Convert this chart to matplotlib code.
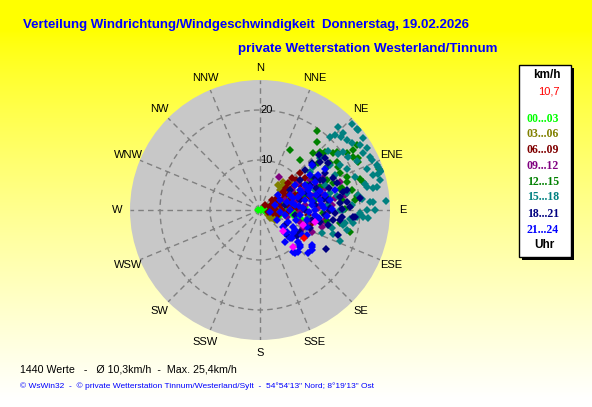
import numpy as np
import matplotlib
matplotlib.use("Agg")
import matplotlib.pyplot as plt
from matplotlib.patches import Rectangle

# Windrichtung (Grad) / Windgeschwindigkeit (km/h) je Uhrzeit-Gruppe
h00_03 = [(90,0.2),(56,0.7),(113,1.5),(101,2.0),(118,3.0),(69,1.7),(82,3.0),(97,3.4),(104,4.1),
          (73,4.8),(85,6.4),(100,7.7),(103,8.6),(67,6.5),(61,7.5),(270,0.4),(86,9.0),(106,3.7),
          (90,5.2),(101,1.0),(76,4.1),(93,7.0),(99,6.7),(92,1.3),(108,2.6)]
h03_06 = [(44,6.4),(45,5.7),(39,7.2),(47,8.2),(118,3.0),(124,2.9),(90,3.4),(129,2.6),(124,3.6),
          (36,6.2),(46,7.2),(51,6.4),(122,1.9),(80,6.1),(71,7.4),(86,8.0)]
h06_09 = [(73,2.1),(55,4.2),(52,5.8),(55,8.0),(58,9.4),(72,6.3),(90,4.4),(103,2.7),(96,5.4),
          (87,7.4),(73,8.8),(47,10.9),(45,9.1),(75,10.3),(100,11.8),(104,10.7),(45,1.4),(62,3.4),
          (76,4.1),(61,5.7),(56,7.2),(67,7.6),(104,1.6),(106,3.7),(66,9.8),(46,7.8),(50,9.4),
          (50,3.1),(96,9.7),(55,11.0),(65,5.0),(80,5.5),(85,3.0),(60,6.6),(68,8.5),(78,2.8),
          (88,6.2),(50,6.8),(95,2.2),(64,2.5)]
h09_12 = [(30,7.6),(113,11.3),(105,12.9),(55,9.3),(71,13.7),(90,6.0),(84,9.1),(95,11.0),(80,12.2),
          (73,10.4),(77,7.2),(65,9.5),(86,14.4),(104,5.6),(107,8.4),(92,13.6),(70,13.2),(77,12.9),
          (86,13.4),(63,14.1),(104,9.9),(66,12.3),(93,8.0),(68,5.4),(59,11.7),(81,15.2),(71,16.9),
          (88,11.6),(58,7.5),(113,9.3),(80,17.3),(75,11.0),(85,12.0),(100,13.0),(62,10.5)]
h12_15 = [(36,19.5),(27,13.4),(39,12.8),(43,15.6),(48,16.6),(57,15.9),(58,18.1),(65,17.6),(78,18.8),
          (83,20.1),(84,19.1),(83,16.5),(79,13.8),(69,12.9),(58,12.3),(62,10.6),(51,14.8),(66,14.7),
          (70,15.6),(75,16.6),(72,18.3),(90,14.0),(93,12.6),(104,18.6),(53,19.4),(57,20.8),(57,22.1),
          (62,22.2),(48,17.4),(56,16.9),(61,17.8),(60,21.4),(56,23.4),(64,21.7),(73,20.9),(69,18.6),
          (75,17.0),(82,19.6),(75,21.3),(99,16.2),(99,13.5),(89,17.0),(71,25.2),(40,17.7),(46,16.8),
          (52,18.6),(72,9.5),(80,11.2)]
h15_18 = [(43,22.8),(50,25.3),(55,25.2),(44,20.2),(48,21.7),(51,22.3),(54,22.8),(57,23.9),(60,24.8),
          (66,24.5),(69,25.1),(72,25.4),(73,24.7),(73,23.7),(69,23.0),(63,21.8),(59,20.5),(55,20.2),
          (54,19.2),(49,18.1),(49,15.9),(51,13.6),(53,12.6),(65,19.2),(71,20.0),(76,21.7),(79,23.1),
          (86,25.3),(86,22.7),(90,21.4),(94,20.6),(94,19.4),(96,18.1),(100,16.9),(103,17.9),(98,18.8),
          (94,21.7),(90,23.0),(90,16.0),(80,15.6),(76,14.4),(79,17.7),(81,19.8),(108,15.3),(110,13.2),
          (111,17.1),(90,16.6),(45,21.1),(47,22.6),(47,25.1),(51,25.3),(61,23.6),(64,24.4),(70,25.2),
          (79,23.8),(86,22.0),(92,20.0),(99,17.2),(104,14.8),(76,24.7),(78,21.9),(69,13.9),(61,13.2),
          (65,16.6),(61,18.4),(57,16.6),(70,11.7),(86,13.6),(87,18.4),(84,20.5),(100,9.7),(102,14.1)]
h18_21 = [(121,15.3),(108,16.4),(101,12.2),(101,10.6),(125,9.0),(94,19.1),(48,14.0),(51,15.4),
          (47,16.0),(51,16.6),(50,13.9),(53,10.0),(56,7.2),(70,10.0),(85,16.1),(78,16.9),(88,18.0),
          (90,14.0),(98,14.7),(94,13.0),(85,11.0),(55,16.5),(60,15.0),(66,15.9),(71,16.3),(81,16.2),
          (82,13.7),(89,16.4),(85,17.5),(94,18.7),(97,16.1),(92,15.0),(88,14.0),(83,20.1),(76,8.2),
          (90,9.0),(98,7.1),(63,11.2),(76,12.0),(79,5.1),(63,13.4),(48,12.0),(133,7.6),(119,9.1),
          (121,5.8),(110,10.6),(72,14.5),(80,13.0),(68,12.0),(95,16.5),(102,14.0),(60,12.8),
          (77,17.8),(65,14.0)]
h21_24 = [(127,5.7),(129,7.0),(142,8.1),(131,8.5),(125,8.0),(130,9.9),(133,10.9),(142,10.7),
          (141,11.1),(121,9.8),(125,12.8),(128,13.1),(110,10.0),(102,9.6),(113,6.1),(121,3.9),
          (100,11.6),(133,6.8),(133,8.2),(120,8.1),(131,10.6),(118,10.6),(138,11.3),(117,7.4),
          (124,12.5),(132,12.9),(49,13.8),(55,12.2),(63,12.3),(63,4.5),(63,6.7),(82,7.1),(63,8.9),
          (78,9.2),(73,10.4),(90,11.0),(81,12.2),(77,13.3),(101,5.1),(72,3.2),(97,8.1),(55,8.6),
          (61,10.3),(72,12.6),(82,14.1),(85,10.4),(90,6.0),(96,4.0),(59,13.5),(58,15.3),(71,8.0),
          (67,10.4),(85,12.4),(95,11.0),(75,15.5),(89,14.4),(74,5.6),(87,8.6),(101,2.0),(50,4.7),
          (70,7.0),(80,10.5),(88,12.8),(75,11.5),(68,9.0),(92,9.8),(84,7.8),(78,6.5),(95,13.5),
          (65,11.0),(105,7.5),(98,12.0)]
extra_magenta = [(109,9.1),(138,9.9),(102,11.3),(132,6.2)]
extra_red = [(123,10.4)]

gruppen = [h00_03, h03_06, h06_09, h09_12, h12_15, h15_18, h18_21, h21_24]
farben = ['#00ff00', '#808000', '#800000', '#800080', '#008000', '#008080', '#000080', '#0000ff']
uhrzeiten = ['00...03', '03...06', '06...09', '09...12', '12...15', '15...18', '18...21', '21...24']
richtungen = ['N','NNE','NE','ENE','E','ESE','SE','SSE','S','SSW','SW','WSW','W','WNW','NW','NNW']
ringe = [10, 20]

W, H = 592, 407
fig = plt.figure(figsize=(W/100, H/100), dpi=100)

def fx(x): return x / W
def fy(y): return 1 - y / H

# Hintergrund: gelb -> hellgelb
bg = fig.add_axes([0, 0, 1, 1])
yy = np.linspace(0, H, 200)
t = np.clip((yy - 30) / 370, 0, 1) ** 0.8
grad = np.ones((200, 2, 3))
grad[:, :, 2] = t[:, None]
bg.imshow(grad, extent=[0, 1, 0, 1], aspect='auto', origin='upper')
bg.set_axis_off()

# Polardiagramm
cx, cy, rad = 260, 210, 130
ax = fig.add_axes([fx(cx-rad), fy(cy+rad), 2*rad/W, 2*rad/H], projection='polar')
ax.set_theta_zero_location('N')
ax.set_theta_direction(-1)
ax.set_facecolor('#c8c8c8')
ax.spines['polar'].set_visible(False)
ax.set_ylim(0, 26)
ax.set_yticks(ringe)
ax.set_yticklabels([])
ax.set_xticks(np.radians(np.arange(0, 360, 22.5)))
ax.set_xticklabels([])
ax.grid(True, color='#808080', linestyle=(0, (4, 3)), linewidth=1)

for g, c in zip(gruppen, farben):
    d = np.radians([p[0] for p in g])
    s = [p[1] for p in g]
    ax.plot(d, s, 'D', color=c, ms=4.2, mew=0, linestyle='none')
for g, c in [(extra_magenta, '#ff00ff'), (extra_red, '#ff0000')]:
    ax.plot(np.radians([p[0] for p in g]), [p[1] for p in g], 'D', color=c, ms=4.2, mew=0, linestyle='none')

for i, r in enumerate(richtungen):
    ax.text(np.radians(i*22.5), 28.5, r, ha='center', va='center', fontsize=8,
            family='Liberation Sans', clip_on=False)
for r in ringe:
    ax.annotate(str(r), xy=(0, r), xytext=(4.5, 0), textcoords='offset points',
                ha='center', va='center', fontsize=8, family='Liberation Sans')

# Titel
fig.text(fx(23), fy(25), 'Verteilung Windrichtung/Windgeschwindigkeit  Donnerstag, 19.02.2026',
         color='#0000ff', fontsize=9.5, fontweight='bold', family='Liberation Sans', va='center')
fig.text(fx(238), fy(49), 'private Wetterstation Westerland/Tinnum',
         color='#0000ff', fontsize=9.6, fontweight='bold', family='Liberation Sans', va='center')

# Legende
fig.add_artist(Rectangle((fx(522), fy(260)), 52/W, 192/H, transform=fig.transFigure,
                         facecolor='black', edgecolor='none'))
fig.add_artist(Rectangle((fx(519), fy(257)), 52/W, 192/H, transform=fig.transFigure,
                         facecolor='white', edgecolor='black', linewidth=1))
fig.text(fx(547), fy(75), 'km/h', ha='center', va='center', fontsize=8.5, fontweight='bold',
         family='Liberation Sans')
fig.text(fx(549), fy(92), '10,7', ha='center', va='center', fontsize=8, color='#ff0000',
         family='Liberation Sans')
ys = [119, 134, 150, 166, 182, 197, 214, 230]
for u, c, y in zip(uhrzeiten, farben, ys):
    fig.text(fx(543), fy(y), u, ha='center', va='center', fontsize=8.5, fontweight='bold',
             color=c, family='Liberation Serif')
fig.text(fx(544), fy(245), 'Uhr', ha='center', va='center', fontsize=8.5, fontweight='bold',
         family='Liberation Sans')

# Fusszeile
fig.text(fx(20), fy(369), '1440 Werte   -   Ø 10,3km/h  -  Max. 25,4km/h', va='center',
         fontsize=7.7, family='Liberation Sans')
fig.text(fx(20), fy(386), '© WsWin32  -  © private Wetterstation Tinnum/Westerland/Sylt  -  54°54\'13" Nord; 8°19\'13" Ost',
         va='center', fontsize=6.0, color='#0000ff', family='Liberation Sans')

fig.savefig('out.png', dpi=100)
